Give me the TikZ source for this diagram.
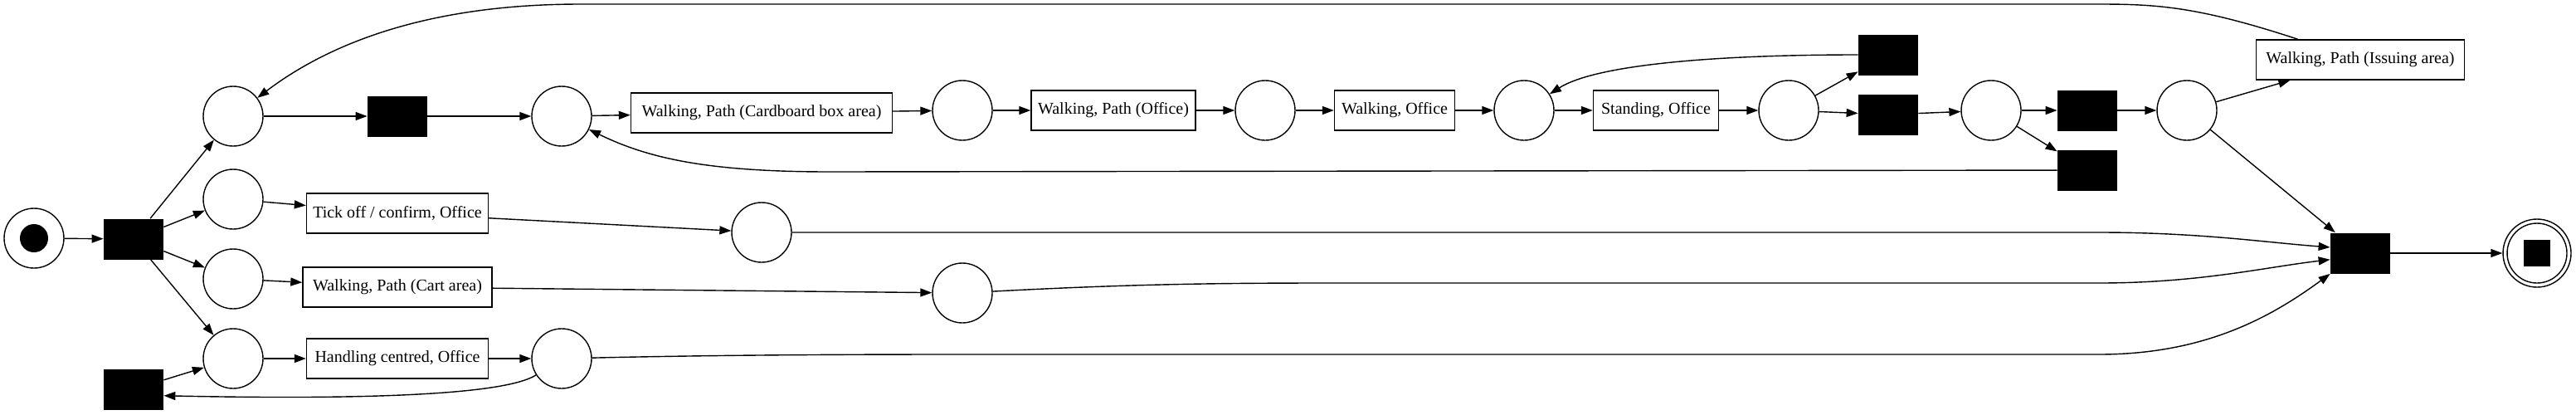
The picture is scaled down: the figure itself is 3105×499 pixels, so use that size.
\documentclass[tikz,border=0pt]{standalone}
\usepackage{fontspec}
\setmainfont{Liberation Serif}
\usetikzlibrary{arrows.meta}
\begin{document}
\begin{tikzpicture}[x=0.5pt,y=-0.5pt,
  place/.style={circle,draw,line width=0.7pt,minimum size=36pt,inner sep=0pt},
  trans/.style={rectangle,fill=black,minimum width=36pt,minimum height=24.5pt,inner sep=0pt},
  act/.style={rectangle,draw,line width=0.7pt,minimum height=24pt,inner sep=0pt,font=\fontsize{10}{12}\selectfont},
  arc/.style={line width=0.7pt,-{Triangle[length=7pt,width=5pt]}},
  token/.style={circle,fill=black,minimum size=17pt,inner sep=0pt}]
\useasboundingbox (0,0) rectangle (3105,499);
% places and transitions
\node[place] (start) at (41,287) {};
\node[token] (tok) at (start) {};
\node[trans] (t1) at (161,288) {};
\node[place] (pa) at (281,140) {};
\node[place] (pb) at (281,240) {};
\node[place] (pc) at (281,336) {};
\node[place] (pd) at (281,432) {};
\node[trans] (tbl) at (161,469) {};
\node[trans] (t2) at (479,140) {};
\node[place] (pe) at (677,140) {};
\node[act,minimum width=157.5pt] (card) at (918,136) {Walking, Path (Cardboard box area)};
\node[place] (pf) at (1160,133) {};
\node[act,minimum width=99pt] (offp) at (1342,133) {Walking, Path (Office)};
\node[place] (pg) at (1525,133) {};
\node[act,minimum width=72.5pt] (woff) at (1681,133) {Walking, Office};
\node[place] (ph) at (1837,133) {};
\node[act,minimum width=75.5pt] (stand) at (1996,133) {Standing, Office};
\node[place] (pi) at (2156,133) {};
\node[trans] (tA) at (2276,66) {};
\node[trans] (tB) at (2276,138) {};
\node[place] (pj) at (2400,133) {};
\node[trans] (tj1) at (2516,133) {};
\node[trans] (tj2) at (2516,205) {};
\node[place] (pk) at (2636,133) {};
\node[act,minimum width=125.5pt] (issue) at (2845,72) {Walking, Path (Issuing area)};
\node[trans] (tF) at (2845,305) {};
\node[place,minimum size=41pt] (end) at (3058,305) {};
\node[place] (endin) at (end) {};
\node[rectangle,fill=black,minimum size=16pt,inner sep=0pt] (endsq) at (end) {};
\node[act,minimum width=109.5pt] (tick) at (479,257) {Tick off / confirm, Office};
\node[place] (pl) at (918,280) {};
\node[act,minimum width=114pt] (cart) at (479,346) {Walking, Path (Cart area)};
\node[place] (pm) at (1160,353) {};
\node[act,minimum width=109.5pt] (hand) at (479,432) {Handling centred, Office};
\node[place] (pn) at (677,432) {};
% straight arcs
\draw[arc] (start) -- (t1);
\draw[arc] (t1) -- (pa);
\draw[arc] (t1) -- (pb);
\draw[arc] (t1) -- (pc);
\draw[arc] (t1) -- (pd);
\draw[arc] (pa) -- (t2);
\draw[arc] (t2) -- (pe);
\draw[arc] (pe) -- (card);
\draw[arc] (card) -- (pf);
\draw[arc] (pf) -- (offp);
\draw[arc] (offp) -- (pg);
\draw[arc] (pg) -- (woff);
\draw[arc] (woff) -- (ph);
\draw[arc] (ph) -- (stand);
\draw[arc] (stand) -- (pi);
\draw[arc] (pi) -- (tA);
\draw[arc] (pi) -- (tB);
\draw[arc] (tB) -- (pj);
\draw[arc] (pj) -- (tj1);
\draw[arc] (pj) -- (tj2);
\draw[arc] (tj1) -- (pk);
\draw[arc] (pk) -- (issue);
\draw[arc] (pk) -- (tF);
\draw[arc] (tF) -- (end);
\draw[arc] (pb) -- (tick);
\draw[arc] (tick) -- (pl);
\draw[arc] (pc) -- (cart);
\draw[arc] (cart) -- (pm);
\draw[arc] (pd) -- (hand);
\draw[arc] (hand) -- (pn);
\draw[arc] (tbl) -- (pd);
% curved arcs
\draw[arc] (issue) .. controls (2650,8) and (2600,5) .. (2530,5) -- (700,5) .. controls (520,5) and (400,50) .. (pa);
\draw[arc] (tj2) -- (1000,207) .. controls (850,207) and (780,190) .. (pe);
\draw[arc] (tA) .. controls (2050,66) and (1920,80) .. (ph);
\draw[arc] (pn) .. controls (610,475) and (450,482) .. (tbl.-12);
\draw[arc] (pn) .. controls (850,428) and (1000,427) .. (1150,427) -- (2530,427) .. controls (2660,427) and (2740,380) .. (tF.south west);
\draw[arc] (pm) .. controls (1350,343) and (1450,341) .. (1600,341) -- (2530,341) .. controls (2650,341) and (2730,322) .. (tF.192);
\draw[arc] (pl) -- (2530,280) .. controls (2650,280) and (2730,292) .. (tF.169);
\end{tikzpicture}
\end{document}
